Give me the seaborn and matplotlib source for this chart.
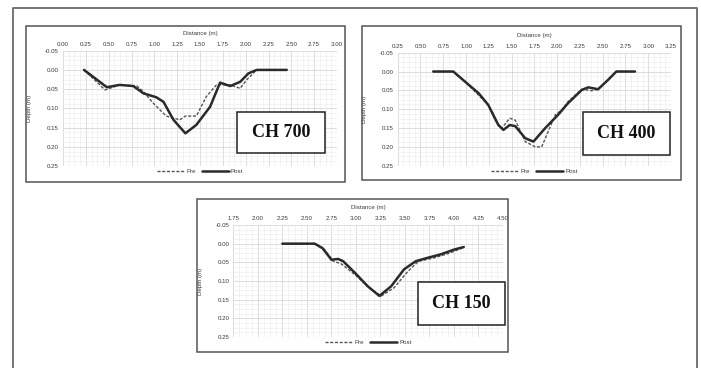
import numpy as np
import pandas as pd
import matplotlib
matplotlib.use('Agg')
import matplotlib.pyplot as plt
import matplotlib.patches as mpatches
from matplotlib.lines import Line2D
from matplotlib.ticker import MultipleLocator, FormatStrFormatter
import seaborn as sns

#%% data (distance m, depth m)
ch700_pre_x = [0.23, 0.46, 0.51, 0.62, 0.81, 0.88, 0.99, 1.13, 1.28, 1.34, 1.46, 1.57, 1.68, 1.83, 1.94, 2.01, 2.12, 2.45]
ch700_pre_y = [0.0, 0.052, 0.048, 0.039, 0.042, 0.056, 0.087, 0.12, 0.13, 0.12, 0.12, 0.069, 0.039, 0.039, 0.048, 0.026, 0.0, 0.0]
ch700_post_x = [0.23, 0.48, 0.62, 0.77, 0.88, 1.02, 1.10, 1.21, 1.34, 1.46, 1.61, 1.72, 1.83, 1.94, 2.03, 2.12, 2.45]
ch700_post_y = [0.0, 0.045, 0.039, 0.042, 0.061, 0.071, 0.083, 0.13, 0.165, 0.143, 0.096, 0.033, 0.042, 0.031, 0.009, 0.0, 0.0]

ch400_pre_x = [0.64, 0.86, 0.99, 1.245, 1.32, 1.39, 1.48, 1.54, 1.65, 1.76, 1.83, 1.98, 2.05, 2.12, 2.27, 2.38, 2.45, 2.56, 2.65, 2.855]
ch400_pre_y = [0.0, 0.0, 0.027, 0.089, 0.129, 0.151, 0.124, 0.129, 0.186, 0.2, 0.2, 0.115, 0.102, 0.08, 0.047, 0.051, 0.047, 0.021, 0.0, 0.0]
ch400_post_x = [0.64, 0.86, 0.99, 1.14, 1.245, 1.355, 1.41, 1.48, 1.54, 1.65, 1.74, 1.87, 2.01, 2.12, 2.27, 2.34, 2.45, 2.56, 2.65, 2.855]
ch400_post_y = [0.0, 0.0, 0.027, 0.058, 0.089, 0.142, 0.155, 0.142, 0.145, 0.177, 0.186, 0.15, 0.115, 0.084, 0.049, 0.042, 0.047, 0.022, 0.0, 0.0]

ch150_pre_x = [2.25, 2.58, 2.68, 2.77, 2.85, 2.99, 3.16, 3.26, 3.39, 3.53, 3.64, 3.80, 3.96, 4.10]
ch150_pre_y = [0.0, 0.0, 0.016, 0.047, 0.054, 0.083, 0.123, 0.14, 0.118, 0.074, 0.047, 0.038, 0.025, 0.01]
ch150_post_x = [2.25, 2.58, 2.66, 2.75, 2.82, 2.87, 2.99, 3.12, 3.24, 3.36, 3.49, 3.61, 3.73, 3.86, 4.00, 4.10]
ch150_post_y = [0.0, 0.0, 0.012, 0.043, 0.041, 0.047, 0.078, 0.114, 0.14, 0.114, 0.069, 0.047, 0.038, 0.029, 0.016, 0.009]

W, H = 701, 368

def frac(l, t, r, b):
    return [l / W, 1 - b / H, (r - l) / W, (b - t) / H]

sns.set_style('white')
plt.rcParams['font.family'] = ['Liberation Sans', 'DejaVu Sans']

fig = plt.figure(figsize=(W / 100, H / 100), dpi=100)

# outer frame (open at the bottom)
fc = '#6a6a6a'
fig.add_artist(Line2D([13 / W, 13 / W, 697 / W, 697 / W], [0, 1 - 8 / H, 1 - 8 / H, 0],
                      transform=fig.transFigure, color=fc, lw=1.3))

panels = [
    # label, pre, post, x0, x1, panel box, axes box, CH box
    ('CH 700', ch700_pre_x, ch700_pre_y, ch700_post_x, ch700_post_y, 0.0, 3.0,
     (26, 26, 345, 182), (63, 50.7, 337, 166), (236.7, 111.7, 325, 153.3)),
    ('CH 400', ch400_pre_x, ch400_pre_y, ch400_post_x, ch400_post_y, 0.25, 3.25,
     (362, 26, 681, 180), (397.7, 52.7, 671, 165.7), (583.3, 111.7, 670, 155)),
    ('CH 150', ch150_pre_x, ch150_pre_y, ch150_post_x, ch150_post_y, 1.75, 4.5,
     (197, 199, 508, 352), (233.3, 225, 503, 337), (418.3, 281.7, 505, 325)),
]

for name, prx, pry, pox, poy, x0, x1, pbox, abox, cbox in panels:
    l, t, r, b = pbox
    fig.add_artist(mpatches.Rectangle((l / W, 1 - b / H), (r - l) / W, (b - t) / H,
                                      transform=fig.transFigure, fill=False,
                                      edgecolor='#555555', lw=1.1))
    ax = fig.add_axes(frac(*abox))
    pre = pd.DataFrame({'x': prx, 'y': pry})
    post = pd.DataFrame({'x': pox, 'y': poy})
    sns.lineplot(data=pre, x='x', y='y', ax=ax, color='#555555', lw=1.0,
                 sort=False, label='Pre')
    ax.lines[-1].set_dashes((2.2, 1.2))
    sns.lineplot(data=post, x='x', y='y', ax=ax, color='#2a2a2a', lw=1.8,
                 sort=False, label='Post')

    ax.set_xlim(x0, x1)
    ax.set_ylim(0.25, -0.05)
    ax.xaxis.set_major_locator(MultipleLocator(0.25))
    ax.xaxis.set_minor_locator(MultipleLocator(0.0625))
    ax.yaxis.set_major_locator(MultipleLocator(0.05))
    ax.yaxis.set_minor_locator(MultipleLocator(0.0125))
    ax.xaxis.set_major_formatter(FormatStrFormatter('%.2f'))
    ax.yaxis.set_major_formatter(FormatStrFormatter('%.2f'))
    ax.xaxis.tick_top()
    ax.xaxis.set_label_position('top')
    ax.tick_params(axis='both', which='both', length=0, labelsize=4.4,
                   labelcolor='#3a3a3a', pad=3)
    ax.grid(True, which='major', color='#d8d8d8', lw=0.6)
    ax.grid(True, which='minor', color='#eaeaea', lw=0.4)
    ax.set_axisbelow(True)
    for s in ax.spines.values():
        s.set_visible(False)
    ax.set_xlabel('Distance (m)', fontsize=4.4, color='#3a3a3a', labelpad=5)
    ax.set_ylabel('Depth (m)', fontsize=4.4, color='#3a3a3a', labelpad=9)

    leg = ax.legend(loc='upper center', bbox_to_anchor=(0.5, -0.005), ncol=2,
                    frameon=False, fontsize=4.4, handlelength=4.5,
                    columnspacing=1.0, handletextpad=0.3, borderaxespad=0)
    for txt in leg.get_texts():
        txt.set_color('#3a3a3a')

    cl, ct, cr, cb = cbox
    fig.add_artist(mpatches.Rectangle((cl / W, 1 - cb / H), (cr - cl) / W, (cb - ct) / H,
                                      transform=fig.transFigure, facecolor='white',
                                      edgecolor='#222222', lw=1.1, zorder=5))
    fig.text((cl + cr) / 2 / W, 1 - (ct + cb) / 2 / H, name, ha='center', va='center',
             fontsize=13, fontweight='bold', family='Liberation Serif', color='#111111',
             zorder=6)

plt.savefig('out.png', dpi=100)
